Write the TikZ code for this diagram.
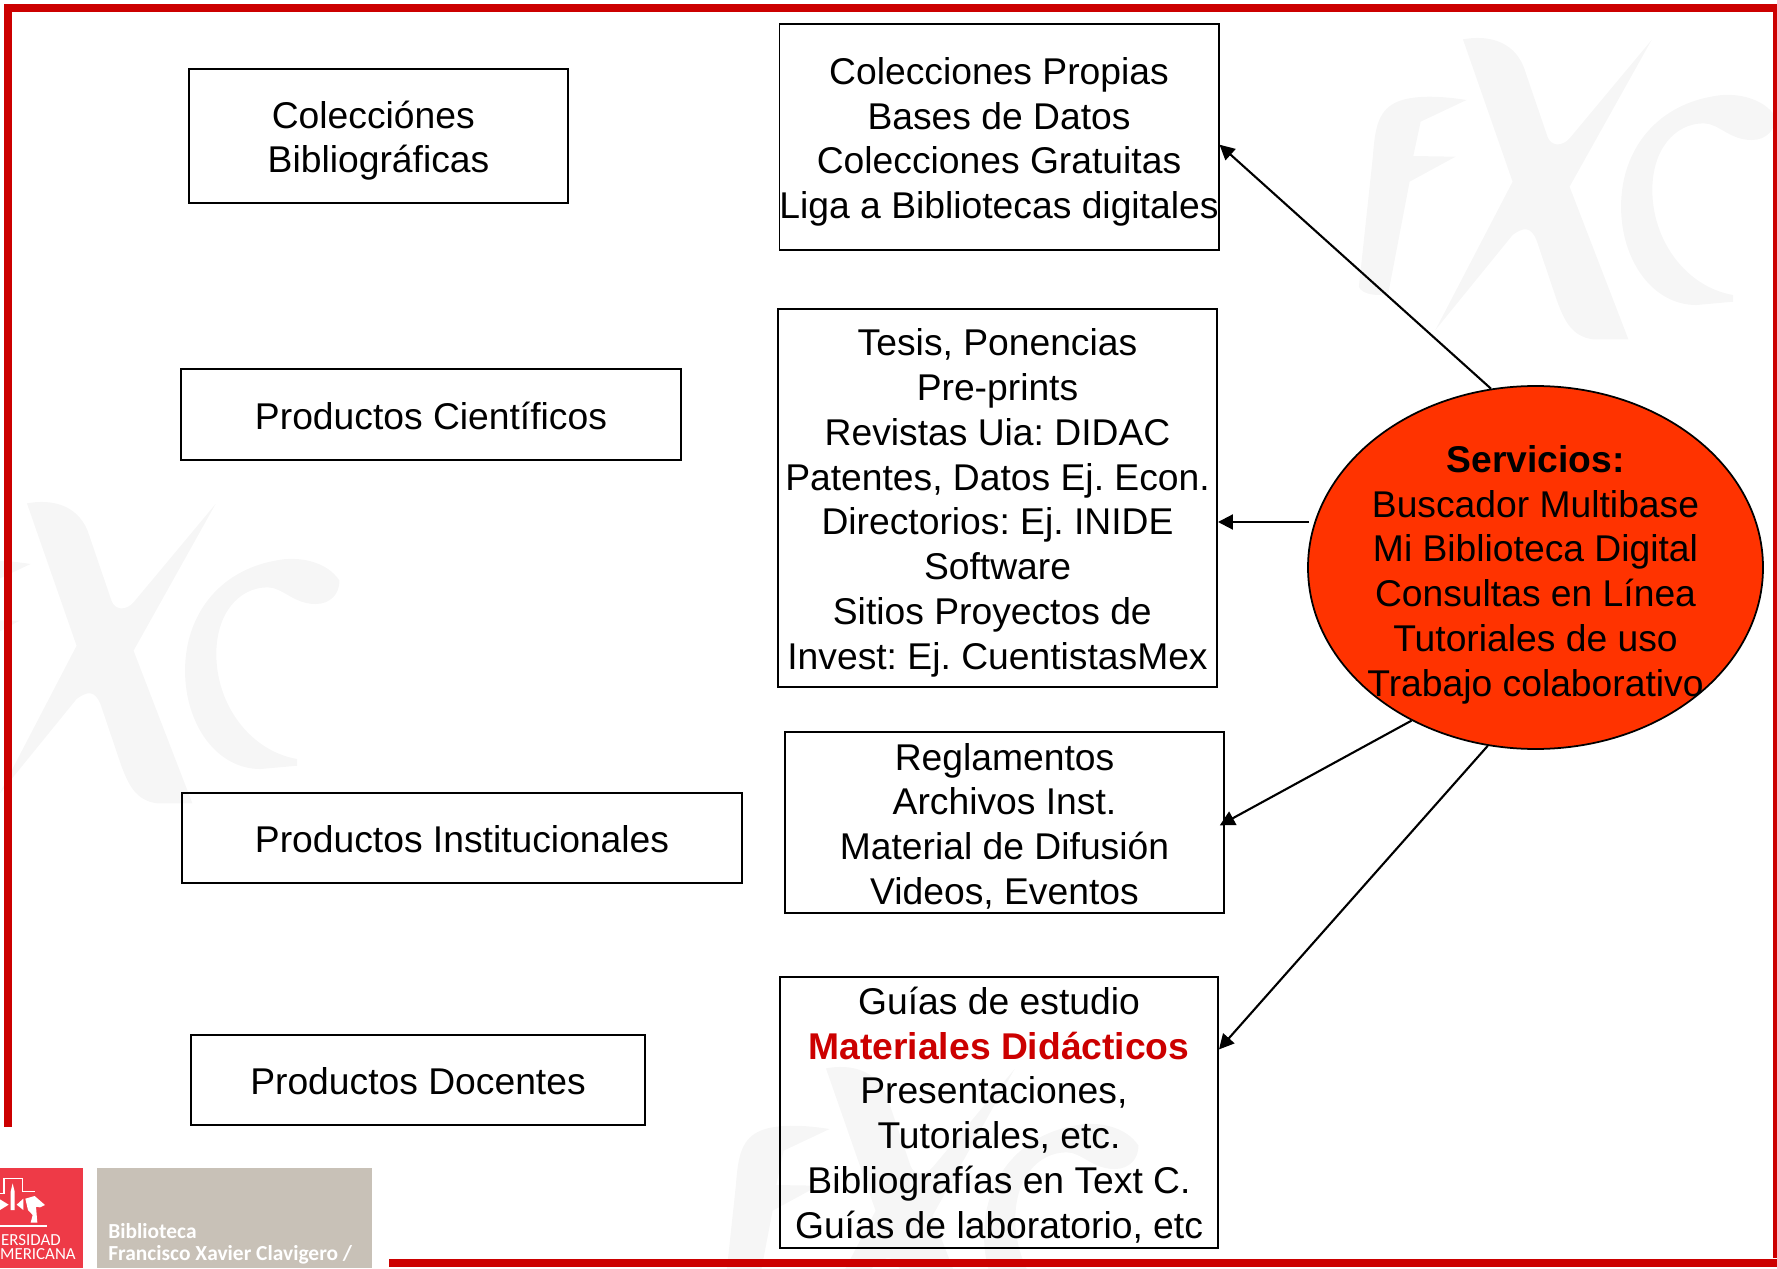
\documentclass[tikz,border=0pt]{standalone}
\usepackage{fontspec}
\setmainfont{Liberation Sans}
\newfontfamily\logofont{Carlito}
\usepackage{xcolor}
\definecolor{frame-red}{HTML}{CC0000}
\definecolor{oval-red}{HTML}{FF3300}
\definecolor{logo-red}{HTML}{EE3A47}
\definecolor{logo-grey}{HTML}{C8C1B7}
\definecolor{mark-grey}{HTML}{F6F6F6}
\usepackage{tikz}
\usetikzlibrary{arrows.meta,shapes.geometric}

\newcommand{\alto}[1]{\rule{0pt}{#1pt}}

\tikzset{
    textbox/.style={draw=black, line width=1.1pt, fill=none, inner sep=0pt, align=center,
        font=\frenchspacing\fontsize{21.2}{25.5}\selectfont},
    flecha/.style={line width=1.2pt, -{Triangle[length=8.5pt,width=8.5pt]}},
    logotext/.style={white, anchor=base west, inner sep=0pt}
}

% Watermark letters, drawn at a shift
\newcommand{\fxcmark}[2]{
    \begin{scope}[shift={(#1,#2)}, x=0.00736cm, y=-0.00667cm]
        \fill[mark-grey] (725,300) .. controls (640,285) and (560,285) .. (520,315)
            .. controls (480,345) and (475,400) .. (470,470) -- (432,860)
            .. controls (440,885) and (490,890) .. (512,880) -- (570,545)
            -- (695,470) -- (580,468) -- (600,365) -- cycle;
        \fill[mark-grey] (715,118) .. controls (780,105) and (850,120) .. (880,200)
            -- (945,410) .. controls (955,440) and (985,440) .. (1005,415)
            -- (1228,120) -- (1005,560) -- (1165,1018) -- (1070,1018)
            .. controls (1010,1010) and (990,960) .. (970,900) -- (915,720)
            .. controls (900,680) and (880,680) .. (850,705) -- (640,990)
            -- (850,545) -- cycle;
        \fill[mark-grey] (1565,350) .. controls (1530,290) and (1450,275) .. (1390,290)
            .. controls (1240,320) and (1145,450) .. (1145,620)
            .. controls (1145,780) and (1230,915) .. (1350,915)
            -- (1450,905) -- (1450,885)
            .. controls (1320,860) and (1230,720) .. (1230,570)
            .. controls (1230,450) and (1290,370) .. (1370,370)
            .. controls (1410,370) and (1440,420) .. (1500,420)
            .. controls (1540,420) and (1565,390) .. cycle;
    \end{scope}
}

\begin{document}
\begin{tikzpicture}

    \useasboundingbox (0, 0) rectangle (35.54, 25.36);

    % Watermarks
    \begin{scope}
        \clip (0, 0) rectangle (35.54, 25.36);
        \fxcmark{24.0}{25.36}
        \fxcmark{-4.72}{16.08}
        \fxcmark{11.26}{4.78}
    \end{scope}

    % Frame
    \fill[frame-red] (0.08, 25.12) rectangle (35.54, 25.28);
    \fill[frame-red] (0.08, 2.82) rectangle (0.24, 25.28);
    \fill[frame-red] (35.46, 0.2) rectangle (35.54, 25.28);
    \fill[frame-red] (7.78, 0.02) rectangle (35.54, 0.18);

    % Logo
    \fill[logo-red] (0, 0) rectangle (1.66, 2.0);
    \fill[logo-grey] (1.94, 0) rectangle (7.44, 2.0);
    \begin{scope}
        \clip (0, 0) rectangle (1.66, 2.0);
        \begin{scope}[shift={(0,2.16)}, x=0.00667cm, y=-0.00667cm]
            \draw[white, line width=0.6pt] (0,100) -- (12,100) -- (12,56) -- (68,56) -- (68,95) -- (105,95);
            \draw[white, line width=0.7pt] (0,198) -- (140,198);
            \fill[white] (32,95) -- (38,70) -- (44,95) -- (44,150) -- (32,150) -- cycle;
            \fill[white] (0,118) -- (26,134) -- (0,150) -- cycle;
            \fill[white] (50,134) -- (70,116) -- (70,150) -- cycle;
            \fill[white] (76,116) -- (104,108) -- (135,135) -- (120,142) -- (108,140) -- (112,188) -- (92,188)
                -- (98,165) -- (84,150) -- cycle;
            \node[logotext, font=\logofont\fontsize{9.6}{11}\selectfont, anchor=base east] (logoa) at (183,257) {ERSIDAD};
            \node[logotext, font=\logofont\fontsize{9.6}{11}\selectfont, anchor=base east] (logob) at (228,297) {MERICANA};
        \end{scope}
    \end{scope}
    \node[logotext, font=\logofont\bfseries\fontsize{12.2}{13}\selectfont] (logoc) at (2.16, 0.6) {Biblioteca};
    \node[logotext, font=\logofont\bfseries\fontsize{12.2}{13}\selectfont] (logod) at (2.16, 0.16) {Francisco Xavier Clavigero /};

    % Left column
    \node[textbox, minimum width=7.58cm, minimum height=2.68cm] (bibliograficas) at (7.57, 22.64) {\alto{21}Colecciónes\kern5.9pt\\Bibliográficas};
    \node[textbox, minimum width=10cm, minimum height=1.82cm] (cientificos) at (8.62, 17.07) {\alto{17}Productos Científicos};
    \node[textbox, minimum width=11.2cm, minimum height=1.8cm] (institucionales) at (9.24, 8.6) {\alto{17}Productos Institucionales};
    \node[textbox, minimum width=9.08cm, minimum height=1.8cm] (docentes) at (8.36, 3.76) {\alto{17}Productos Docentes};

    % Middle column
    \node[textbox, minimum width=8.76cm, minimum height=4.52cm] (colecciones) at (19.98, 22.62)
        {\alto{21}Colecciones Propias\\Bases de Datos\\Colecciones Gratuitas\\Liga a Bibliotecas digitales};
    \node[textbox, minimum width=8.78cm, minimum height=7.56cm] (tesis) at (19.95, 15.4)
        {\alto{21}Tesis, Ponencias\\Pre-prints\\Revistas Uia: DIDAC\\Patentes, Datos Ej. Econ.\\Directorios: Ej. INIDE\\Software\\Sitios Proyectos de\kern5.9pt\\Invest: Ej. CuentistasMex};
    \node[textbox, minimum width=8.78cm, minimum height=3.62cm] (reglamentos) at (20.09, 8.91)
        {\alto{19.5}Reglamentos\\Archivos Inst.\\Material de Difusión\\Videos, Eventos};
    \node[textbox, minimum width=8.76cm, minimum height=5.42cm] (guias) at (19.98, 3.11)
        {\alto{18.5}Guías de estudio\\\textcolor{frame-red}{\textbf{Materiales Didácticos}}\\Presentaciones,\kern5.9pt\\Tutoriales, etc.\\Bibliografías en Text C.\\Guías de laboratorio, etc};

    % Services
    \node[ellipse, draw=black, line width=1pt, fill=oval-red, inner sep=0pt,
        minimum width=9.1cm, minimum height=7.26cm] (servicios) at (30.71, 14.01) {};
    \node[textbox, draw=none] (listado) at (servicios)
        {\alto{23.5}\textbf{Servicios:}\\Buscador Multibase\\Mi Biblioteca Digital\\Consultas en Línea\\Tutoriales de uso\\Trabajo colaborativo};

    % Arrows
    \coordinate (salida) at (26.18, 14.92);
    \draw[flecha] (servicios.104.5) -- (colecciones.-2);
    \draw[flecha] (salida) -- (salida -| tesis.east);
    \draw[flecha, shorten >=-3.4pt] (servicios.231) -- (reglamentos.east);
    \draw[flecha] (servicios.255.7) -- (guias.16);

\end{tikzpicture}
\end{document}
